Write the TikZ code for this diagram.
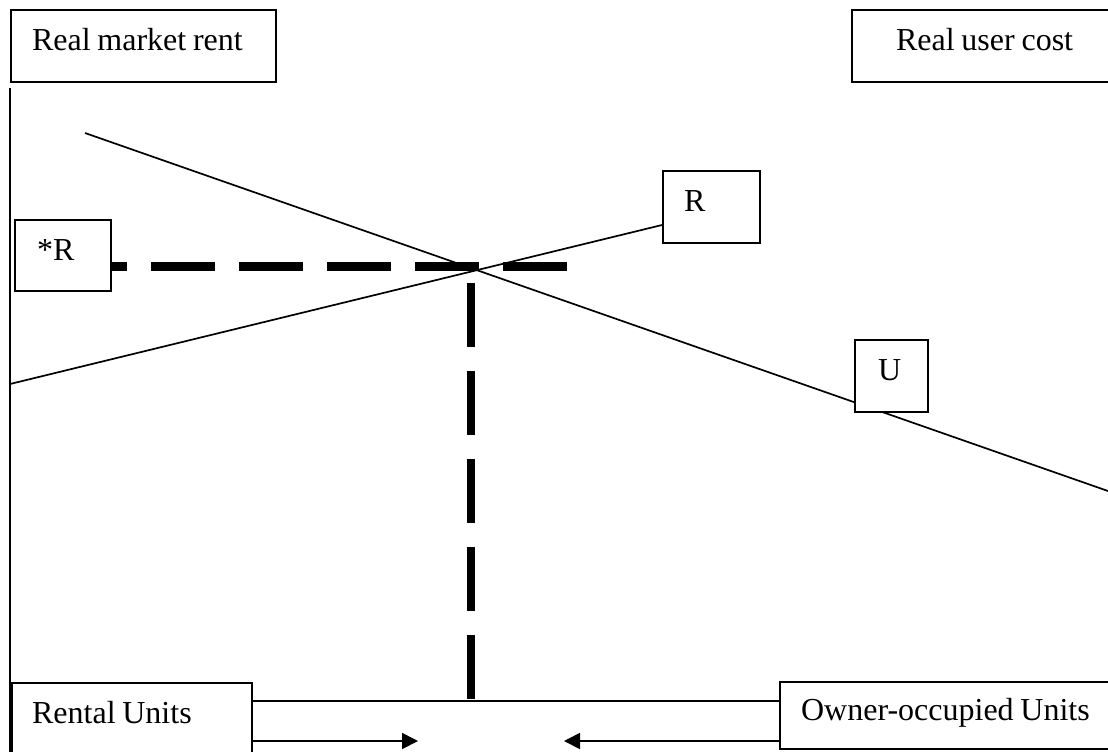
\documentclass[tikz,border=0pt]{standalone}
\usepackage{fontspec}
\setmainfont{Liberation Serif}
\usetikzlibrary{arrows.meta}
\newcommand\tightsp{\spaceskip=0.21em\relax}
\tikzset{
  lblbox/.style={draw, line width=1.1pt, fill=white, anchor=north west,
    inner ysep=0pt, align=left, text height=0.7em, text depth=0.25em,
    font=\fontsize{16}{19}\selectfont, execute at begin node=\tightsp},
  curve/.style={line width=0.85pt},
  eqdash/.style={line width=4.3pt, dash pattern=on 32pt off 12pt},
  flow/.style={line width=0.9pt, -{Triangle[length=8pt,width=8pt]}}
}
\begin{document}
\begin{tikzpicture}[x=0.5pt, y=-0.5pt]
	%%%%% START %%%%%
	\useasboundingbox (0,0) rectangle (1108,751);
	
	\coordinate (axtop) at (10,88);
	\coordinate (axbot) at (10,760);
	\coordinate (ustart) at (85,133);
	\coordinate (uend) at (1108,491);
	\coordinate (rstart) at (10,384);
	\coordinate (rend) at (662,225);
	\coordinate (hend) at (567,266.5);
	\coordinate (vbot) at (471,699);
	\coordinate (vtop) at (471,283);
	\coordinate (base) at (471,701);
	\coordinate (ltip) at (418,741);
	\coordinate (rtip) at (564,741);
	
	% axis and user cost line
	\draw[curve] (axtop) -- (axbot);
	\draw[curve] (ustart) -- (uend);
	
	% labels
	\node[lblbox, inner xsep=10.5pt, text width=111.5pt, minimum height=36pt] (rent) at (10,9) {Real market rent};
	\node[lblbox, inner xsep=10.5pt, text width=111.5pt, minimum height=36pt, align=center] (cost) at (851,9) {Real user cost};
	\node[lblbox, inner xsep=11pt, text width=26pt, minimum height=35.5pt] (starR) at (14,219) {*R};
	\node[lblbox, inner xsep=10.5pt, text width=27.5pt, minimum height=36pt] (rbox) at (662,170) {R};
	\node[lblbox, inner xsep=11.5pt, text width=13.5pt, minimum height=36pt] (ubox) at (854,339) {U};
	\node[lblbox, inner xsep=10pt, text width=100pt, minimum height=35.5pt] (rental) at (11,682) {Rental Units};
	\node[lblbox, inner xsep=10.5pt, text width=149pt, minimum height=33.5pt] (owner) at (779,681) {Owner-occupied Units};
	
	% rent line
	\draw[curve] (rstart) -- (rend);
	
	% equilibrium
	\draw[eqdash] (hend) -- (starR.east |- hend);
	\draw[eqdash] (vbot) -- (vtop);
	
	% units
	\draw[curve] (rental.east |- base) -- (owner.west |- base);
	\draw[flow] (rental.east |- ltip) -- (ltip);
	\draw[flow] (owner.west |- rtip) -- (rtip);
	%%%%% END %%%%%
\end{tikzpicture}
\end{document}
